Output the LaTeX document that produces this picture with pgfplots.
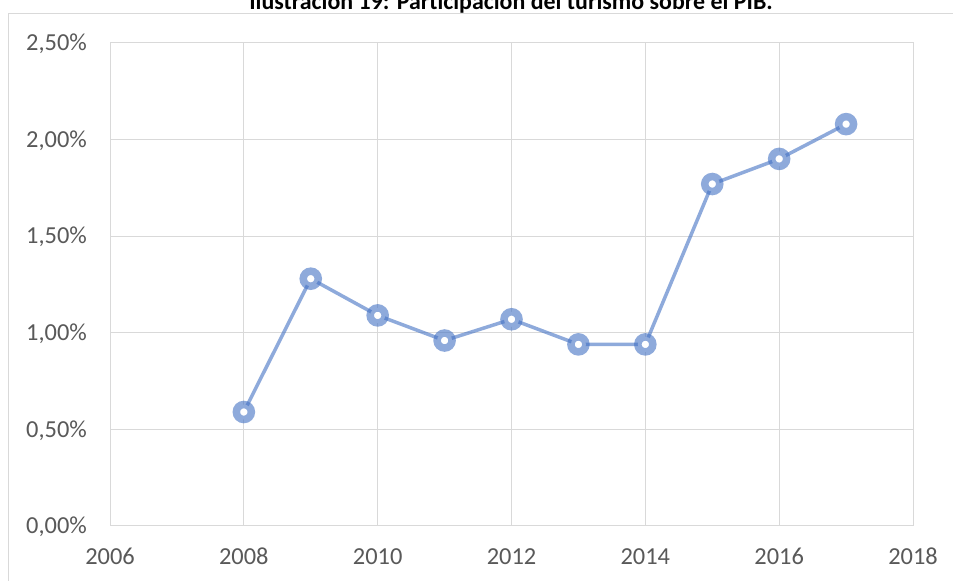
\documentclass[border=0pt]{standalone}
\usepackage{fontspec}
\setmainfont{Carlito}
\usepackage{pgfplots}
\pgfplotsset{compat=1.18}

\definecolor{serie}{HTML}{4472C4}
\definecolor{rejilla}{HTML}{D9D9D9}
\definecolor{textogris}{HTML}{595959}

\begin{document}
\begin{tikzpicture}[x=1bp,y=1bp]
\clip (0,0) rectangle (953,581);
\fill[white] (0,0) rectangle (953,581);
% borde del grafico (recortado)
\draw[rejilla, line width=1bp] (8,-20) rectangle (1000,567);
\node[anchor=base, inner sep=0pt, font=\fontsize{24}{29}\selectfont\bfseries] at (511,571.5)
  {Ilustración 19: Participación del turismo sobre el PIB.};
\begin{axis}[
    at={(110bp,55bp)}, anchor=south west,
    scale only axis,
    width=803bp, height=483bp,
    xmin=2006, xmax=2018,
    ymin=0, ymax=2.5,
    xtick={2006,2008,...,2018},
    xticklabels={2006,2008,2010,2012,2014,2016,2018},
    ytick={0,0.5,1,1.5,2,2.5},
    yticklabels={{0,00\%},{0,50\%},{1,00\%},{1,50\%},{2,00\%},{2,50\%}},
    major tick length=0pt,
    grid=major,
    grid style={rejilla, line width=1bp},
    axis line style={rejilla, line width=1bp},
    tick label style={font=\fontsize{24.5}{29}\selectfont, text=textogris, inner sep=0pt},
    /pgf/number format/assume math mode=true,
    xticklabel style={anchor=base, yshift=-39bp},
    yticklabel style={anchor=base east, xshift=-23bp, yshift=-7.75bp},
]
\addplot[serie, draw opacity=0.6, line width=3.5bp,
    mark=*, mark size=7.5bp,
    mark options={line width=7.5bp, draw=serie, draw opacity=0.6, fill=white, fill opacity=1}]
    coordinates {
    (2008,0.59) (2009,1.28) (2010,1.09) (2011,0.96) (2012,1.07)
    (2013,0.94) (2014,0.94) (2015,1.77) (2016,1.90) (2017,2.08)
};
\end{axis}
\end{tikzpicture}
\end{document}
